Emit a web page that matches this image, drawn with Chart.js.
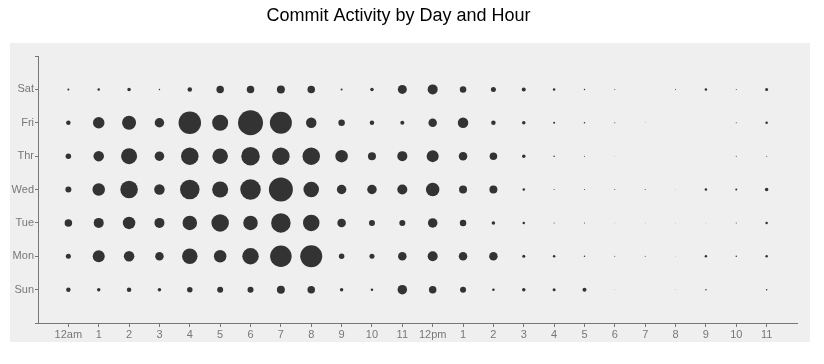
<!DOCTYPE html>
<html>
<head>
<meta charset="utf-8">
<script src="https://cdn.jsdelivr.net/npm/chart.js@4"></script>
<style>
  html, body { margin: 0; padding: 0; background: #fff; }
  #wrap { width: 824px; height: 364px; }
</style>
</head>
<body>
<div id="wrap"><canvas id="punch"></canvas></div>
<script>
let days = ["Sun", "Mon", "Tue", "Wed", "Thr", "Fri", "Sat"];
let hours = ["12am", "1", "2", "3", "4", "5", "6", "7", "8", "9", "10", "11",
             "12pm", "1", "2", "3", "4", "5", "6", "7", "8", "9", "10", "11"];

// commit counts per hour, one list per day
let sun = [9, 7, 9, 7, 11, 12, 12, 16, 15, 7, 5, 19, 15, 12, 5, 7, 6, 8, 1, 0, 1, 3, 0, 3];
let mon = [10, 24, 21, 17, 31, 25, 33, 43, 44, 11, 10, 17, 20, 17, 17, 6, 5, 3, 2, 2, 1, 5, 3, 5];
let tue = [15, 20, 25, 20, 29, 35, 29, 39, 33, 17, 12, 12, 19, 13, 7, 5, 2, 2, 1, 1, 1, 1, 2, 5];
let wed = [12, 25, 35, 21, 39, 32, 41, 48, 31, 19, 19, 20, 27, 16, 16, 5, 2, 2, 2, 2, 1, 5, 4, 7];
let thr = [11, 21, 32, 19, 35, 31, 37, 35, 35, 25, 16, 20, 24, 17, 15, 7, 3, 2, 1, 0, 0, 0, 2, 2];
let fri = [9, 23, 28, 19, 45, 32, 50, 44, 21, 13, 9, 8, 17, 21, 9, 7, 4, 3, 2, 1, 0, 0, 2, 5];
let sat = [4, 5, 7, 3, 9, 15, 15, 16, 15, 4, 7, 18, 20, 13, 10, 8, 5, 3, 2, 0, 2, 5, 2, 6];

let counts = [sun, mon, tue, wed, thr, fri, sat];
let maxCount = 50;
let maxRadius = 12.5;

let points = [];
for (let d = 0; d < counts.length; d++) {
    for (let h = 0; h < counts[d].length; h++) {
        points.push({ x: h, y: d, r: counts[d][h] / maxCount * maxRadius });
    }
}

// grey panel behind the whole plot
let panelBg = {
    id: "panelBg",
    beforeDraw(chart) {
        let ctx = chart.ctx;
        ctx.save();
        ctx.fillStyle = "#efefef";
        ctx.fillRect(10, 43, 800, 299);
        ctx.restore();
    }
};

let axisGrey = "#777";
let labelGrey = "#777";

new Chart(document.getElementById("punch"), {
    type: "bubble",
    data: {
        datasets: [{
            data: points,
            backgroundColor: "#333",
            borderWidth: 0,
            hoverRadius: 0,
            hoverBorderWidth: 0
        }]
    },
    options: {
        responsive: true,
        maintainAspectRatio: false,
        animation: false,
        layout: { padding: { left: 0, right: 27, top: 0, bottom: 0 } },
        plugins: {
            legend: { display: false },
            tooltip: { enabled: false },
            title: {
                display: true,
                text: "Commit Activity by Day and Hour",
                color: "#000",
                font: { family: "Liberation Sans, Arial, sans-serif", size: 18, weight: "normal" },
                padding: { top: 5, bottom: 29.4 }
            }
        },
        scales: {
            x: {
                type: "linear",
                min: -1,
                max: 24,
                afterFit(scale) { scale.height = 41; },
                border: { display: true, color: axisGrey, width: 1 },
                grid: {
                    drawOnChartArea: false,
                    tickLength: 4,
                    tickColor: (c) => (c.tick && c.tick.value >= 0 && c.tick.value <= 23) ? axisGrey : "rgba(0,0,0,0)"
                },
                ticks: {
                    stepSize: 1,
                    autoSkip: false,
                    maxRotation: 0,
                    padding: 1,
                    color: labelGrey,
                    font: { family: "Liberation Sans, Arial, sans-serif", size: 11 },
                    callback: (v) => hours[v] || ""
                }
            },
            y: {
                type: "linear",
                min: -1,
                max: 7,
                afterFit(scale) { scale.width = 38; },
                border: { display: true, color: axisGrey, width: 1 },
                grid: {
                    drawOnChartArea: false,
                    tickLength: 3,
                    tickColor: axisGrey
                },
                ticks: {
                    stepSize: 1,
                    autoSkip: false,
                    padding: 1,
                    color: labelGrey,
                    font: { family: "Liberation Sans, Arial, sans-serif", size: 11 },
                    callback: (v) => days[v] || ""
                }
            }
        }
    },
    plugins: [panelBg]
});
</script>
</body>
</html>
